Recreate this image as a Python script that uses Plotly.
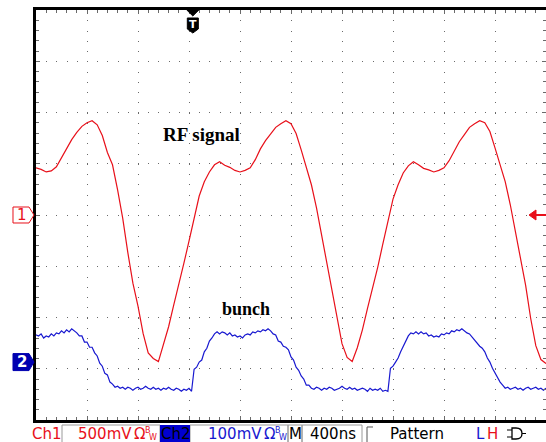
import plotly.graph_objects as go

# ---------------- data ----------------
NS_PER_DIV = 400          # horizontal: 400 ns/div, 10 divisions
CH1_MV_PER_DIV = 500      # Ch1 500 mV/div, ground at screen centre
CH2_MV_PER_DIV = 100      # Ch2 100 mV/div
CH2_OFFSET_DIV = -2.87    # Ch2 ground marker position (divisions)
TRIG_NS = 1230            # trigger position from left edge of record

ch1_t_ns = [40 * i for i in range(101)]
ch1_mv = [460, 445, 420, 430, 470, 560, 655, 735, 805, 865,
          900, 920, 880, 775, 610, 490, 245, -30, -365, -665,
          -890, -1155, -1345, -1400, -1430, -1265, -1090, -880, -685, -470,
          -255, -40, 185, 325, 420, 490, 520, 485, 465, 435,
          420, 435, 460, 540, 645, 725, 795, 855, 890, 920,
          890, 795, 635, 470, 295, 70, -195, -460, -735, -1010,
          -1255, -1390, -1430, -1295, -1120, -910, -715, -510, -285, -80,
          155, 295, 410, 480, 520, 490, 455, 440, 420, 435,
          460, 530, 625, 715, 785, 855, 890, 920, 900, 815,
          655, 490, 325, 100, -165, -420, -685, -1010, -1275, -1410, -1450]

ch2_t_ns = [20 * i for i in range(201)]
ch2_mv = [53, 51, 55, 47, 51, 49, 55, 51, 57, 55,
          61, 57, 63, 59, 65, 61, 57, 51, 51, 39,
          39, 29, 29, 18, 12, -2, -8, -22, -25, -39,
          -43, -49, -47,
          -51, -49, -53, -49, -51, -55, -51, -49, -53, -51,
          -47, -51, -53, -49, -53, -51, -55, -51, -53, -49,
          -53, -55, -51, -53, -57, -53, -55, -51, -57,
          -14, -10, 0, 4, 20, 27, 41, 47, 55, 59,
          55, 59, 57, 53, 57, 51, 53, 49, 51, 47,
          53, 55, 53, 59, 57, 61, 59, 63, 61, 65,
          61, 55, 53, 41, 39, 31, 29, 24, 10, 4,
          -10, -16, -27, -33, -45, -45, -51,
          -53, -49, -51, -55, -51, -53, -49, -51, -55, -53,
          -51, -47, -51, -53, -49, -53, -51, -55, -53, -51,
          -53, -57, -51, -55, -53, -55, -51, -57, -55, -57,
          -12, -8, 0, 8, 20, 31, 41, 51, 57, 55,
          59, 55, 59, 55, 57, 51, 53, 49, 51, 49,
          55, 53, 57, 55, 61, 59, 63, 61, 65, 61,
          57, 55, 49, 41, 37, 31, 27, 20, 8, 0,
          -12, -22, -29, -39, -45, -51,
          -49, -53, -51, -49, -53, -51, -55, -51, -49, -53,
          -51, -49, -53, -51, -55, -51]

ch1_div = [v / CH1_MV_PER_DIV for v in ch1_mv]
ch2_div = [v / CH2_MV_PER_DIV + CH2_OFFSET_DIV for v in ch2_mv]

# ---------------- geometry ----------------
W, H = 546, 442
ML, MR, MT, MB = 36, 0, 10, 22
PW, PH = W - ML - MR, H - MT - MB

def fx(px):
    return (px - ML) / PW

def fy(py):
    return (H - MB - py) / PH

def ppath(pts, close=True):
    s = "M " + " L ".join(f"{fx(x):.5f},{fy(y):.5f}" for x, y in pts)
    return s + (" Z" if close else "")

RED = "#e8101a"
BLUE = "#1818d0"
GRID = "#6a6a6a"

fig = go.Figure()
fig.add_trace(go.Scatter(x=ch1_t_ns, y=ch1_div, mode="lines",
                         line=dict(color=RED, width=1.2), hoverinfo="skip"))
fig.add_trace(go.Scatter(x=ch2_t_ns, y=ch2_div, mode="lines",
                         line=dict(color=BLUE, width=1.2), hoverinfo="skip"))
fig.add_trace(go.Scatter(x=[0], y=[0], yaxis="y2", mode="markers",
                         marker=dict(opacity=0), hoverinfo="skip"))

shapes = []
ann = []

def ctext(txt, px, py, color, size, family="DejaVu Sans"):
    ann.append(dict(text=txt, x=fx(px), y=fy(py), xref="paper", yref="paper",
                    xanchor="center", yanchor="middle", showarrow=False,
                    font=dict(family=family, size=size, color=color)))

# channel ground markers on the left
g1_py = MT + PH / 2
g2_py = g1_py - CH2_OFFSET_DIV * PH / 8
shapes.append(dict(type="path", xref="paper", yref="paper",
                   path=ppath([(13, g1_py - 8), (29, g1_py - 8), (34, g1_py),
                               (29, g1_py + 8), (13, g1_py + 8)]),
                   line=dict(color=RED, width=1), fillcolor="white"))
ctext("1", 21.5, g1_py, RED, 15)
shapes.append(dict(type="path", xref="paper", yref="paper",
                   path=ppath([(13, g2_py - 8.5), (29, g2_py - 8.5), (34, g2_py),
                               (29, g2_py + 8.5), (13, g2_py + 8.5)]),
                   line=dict(color="#0000b0", width=1), fillcolor="#0000b0"))
ctext("<b>2</b>", 21.5, g2_py, "white", 15)

# trigger level arrow on the right
shapes.append(dict(type="path", xref="paper", yref="paper",
                   path=ppath([(529, g1_py), (536, g1_py - 5), (536, g1_py + 5)]),
                   line=dict(color=RED, width=1), fillcolor=RED))
shapes.append(dict(type="line", xref="paper", yref="paper",
                   x0=fx(535), x1=fx(546), y0=fy(g1_py), y1=fy(g1_py),
                   line=dict(color=RED, width=2)))

# trigger position marker at top
tpx = ML + TRIG_NS / NS_PER_DIV * (PW / 10)
shapes.append(dict(type="path", xref="paper", yref="paper",
                   path=ppath([(tpx - 6, 10), (tpx + 6, 10), (tpx, 16)]),
                   line=dict(color="black", width=1), fillcolor="black"))
shapes.append(dict(type="path", xref="paper", yref="paper",
                   path=ppath([(tpx - 5.5, 18), (tpx + 5.5, 18), (tpx + 5.5, 29),
                               (tpx, 33), (tpx - 5.5, 29)]),
                   line=dict(color="black", width=1), fillcolor="black"))
ctext("<b>T</b>", tpx, 24.5, "white", 11)

# labels
ann.append(dict(text="<b>RF signal</b>", x=1300, y=1.58, xref="x", yref="y",
                xanchor="center", yanchor="middle", showarrow=False,
                font=dict(family="Liberation Serif", size=19, color="black")))
ann.append(dict(text="<b>bunch</b>", x=1650, y=-1.83, xref="x", yref="y",
                xanchor="center", yanchor="middle", showarrow=False,
                font=dict(family="Liberation Serif", size=18, color="black")))

# status bar
SB_Y = 433.5
BOX = "#9a9a9a"
for x0, x1 in [(62, 160), (190, 288), (288, 302), (302, 362)]:
    shapes.append(dict(type="rect", xref="paper", yref="paper",
                       x0=fx(x0), x1=fx(x1), y0=fy(425), y1=fy(443),
                       line=dict(color=BOX, width=1)))
shapes.append(dict(type="rect", xref="paper", yref="paper",
                   x0=fx(160), x1=fx(190), y0=fy(425), y1=fy(443),
                   line=dict(width=0), fillcolor="#0000d0"))
shapes.append(dict(type="path", xref="paper", yref="paper",
                   path=ppath([(367, 443), (367, 427), (373, 427)], close=False),
                   line=dict(color="#555555", width=1)))

def stext(txt, px, color, size=15, py=SB_Y):
    ann.append(dict(text=txt, x=fx(px), y=fy(py), xref="paper", yref="paper",
                    xanchor="left", yanchor="middle", showarrow=False,
                    font=dict(family="DejaVu Sans", size=size, color=color)))

stext("Ch1", 30, RED)
stext("500mV", 76, RED)
stext("Ω", 132, RED)
stext("B", 143, RED, size=8, py=430)
stext("W", 147, RED, size=8, py=437)
stext("Ch2", 159, "black")
stext("100mV", 206, BLUE)
stext("Ω", 262, BLUE)
stext("B", 273, BLUE, size=8, py=430)
stext("W", 277, BLUE, size=8, py=437)
stext("M", 287, "black")
stext("400ns", 308, "black")
stext("Pattern", 388, "black")
stext("L", 474, BLUE)
stext("H", 485, RED)

# logic gate symbol
for yy in (430, 437):
    shapes.append(dict(type="line", xref="paper", yref="paper",
                       x0=fx(507), x1=fx(512), y0=fy(yy), y1=fy(yy),
                       line=dict(color="black", width=1)))
shapes.append(dict(type="path", xref="paper", yref="paper",
                   path=(f"M {fx(512):.5f},{fy(428):.5f} L {fx(516):.5f},{fy(428):.5f} "
                         f"Q {fx(522):.5f},{fy(428):.5f} {fx(522):.5f},{fy(433.5):.5f} "
                         f"Q {fx(522):.5f},{fy(439):.5f} {fx(516):.5f},{fy(439):.5f} "
                         f"L {fx(512):.5f},{fy(439):.5f} Z"),
                   line=dict(color="black", width=1.3)))
shapes.append(dict(type="line", xref="paper", yref="paper",
                   x0=fx(522), x1=fx(526), y0=fy(433.5), y1=fy(433.5),
                   line=dict(color="black", width=1)))

fig.update_layout(
    width=W, height=H,
    margin=dict(l=ML, r=MR, t=MT, b=MB, pad=0, autoexpand=False),
    paper_bgcolor="white", plot_bgcolor="white",
    showlegend=False, hovermode=False,
    xaxis=dict(range=[0, 10 * NS_PER_DIV], dtick=NS_PER_DIV, tick0=0,
               showgrid=True, gridcolor=GRID, gridwidth=1,
               griddash=f"1px,{PH / 40 - 1:.2f}px",
               zeroline=False, showticklabels=False,
               showline=True, linecolor="black", linewidth=3, mirror="ticks",
               ticks="inside", ticklen=4, tickcolor=GRID,
               minor=dict(dtick=NS_PER_DIV / 5, ticks="inside", ticklen=3,
                          tickcolor=GRID, showgrid=False),
               fixedrange=True),
    yaxis=dict(range=[-4, 4], dtick=1, tick0=0,
               showgrid=True, gridcolor=GRID, gridwidth=1,
               griddash=f"1px,{PW / 50 - 1:.2f}px",
               zeroline=False, showticklabels=False,
               showline=True, linecolor="black", linewidth=3,
               ticks="inside", ticklen=4, tickcolor=GRID,
               minor=dict(dtick=0.2, ticks="inside", ticklen=3,
                          tickcolor=GRID, showgrid=False),
               fixedrange=True),
    yaxis2=dict(range=[-4, 4], dtick=1, overlaying="y", side="right",
                showgrid=False, zeroline=False, showticklabels=False,
                showline=False, ticks="inside", ticklen=4, tickcolor=GRID,
                minor=dict(dtick=0.2, ticks="inside", ticklen=3, tickcolor=GRID),
                fixedrange=True),
    shapes=shapes, annotations=ann,
)

fig.write_html("out.html", config={"displayModeBar": False, "staticPlot": True},
               post_script="document.body.style.margin='0';"
                           "document.body.style.overflow='hidden';")
